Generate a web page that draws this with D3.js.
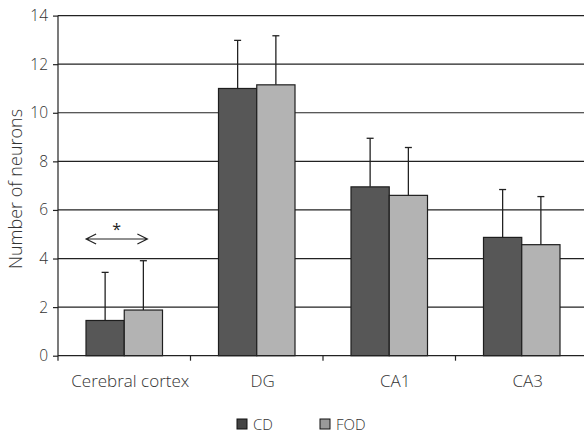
<!DOCTYPE html>
<html><head><meta charset="utf-8">
<script src="https://cdn.jsdelivr.net/npm/d3@7"></script>
<style>body{margin:0;background:#fff;} svg{display:block;font-family:"Open Sans",sans-serif;} svg text{font-family:"Open Sans",sans-serif;}</style>
</head><body>
<svg id="c" width="584" height="434"></svg>
<script>
const categories = ["Cerebral cortex", "DG", "CA1", "CA3"];
const seriesNames = ["CD", "FOD"];
const cdValues = [1.45, 11.0, 6.95, 4.87];
const cdErrors = [1.98, 1.98, 2.0, 1.97];
const fodValues = [1.88, 11.15, 6.6, 4.57];
const fodErrors = [2.03, 2.02, 1.97, 1.98];
const yTicks = [0, 2, 4, 6, 8, 10, 12, 14];
const colors = {CD: "#575757", FOD: "#b3b3b3"};
const legendColors = {CD: "#444444", FOD: "#999999"};

const svg = d3.select("#c");
const x0 = d3.scaleBand().domain(categories).range([58, 588]).paddingInner(0).paddingOuter(0);
const x1 = d3.scaleBand().domain(seriesNames).range([28, x0.bandwidth() - 28]);
const y = d3.scaleLinear().domain([0, 14]).range([355.7, 15.6]);

// gridlines
svg.append("g").selectAll("line").data(yTicks.filter(d => d > 0)).join("line")
  .attr("x1", 58).attr("x2", 588).attr("y1", d => y(d)).attr("y2", d => y(d))
  .attr("stroke", "#222").attr("stroke-width", 1.2);

const data = categories.map((c, i) => ({c, vals: [
  {s: "CD", v: cdValues[i], e: cdErrors[i]},
  {s: "FOD", v: fodValues[i], e: fodErrors[i]}]}));

const g = svg.append("g").selectAll("g").data(data).join("g")
  .attr("transform", d => `translate(${x0(d.c)},0)`);
g.selectAll("line.err").data(d => d.vals).join("line").attr("class","err")
  .attr("x1", d => x1(d.s) + x1.bandwidth()/2).attr("x2", d => x1(d.s) + x1.bandwidth()/2)
  .attr("y1", d => y(d.v)).attr("y2", d => y(d.v + d.e))
  .attr("stroke", "#222").attr("stroke-width", 1.3);
g.selectAll("line.cap").data(d => d.vals).join("line").attr("class","cap")
  .attr("x1", d => x1(d.s) + x1.bandwidth()/2 - 3.5).attr("x2", d => x1(d.s) + x1.bandwidth()/2 + 3.5)
  .attr("y1", d => y(d.v + d.e)).attr("y2", d => y(d.v + d.e))
  .attr("stroke", "#222").attr("stroke-width", 1.3);
g.selectAll("rect").data(d => d.vals).join("rect")
  .attr("x", d => x1(d.s)).attr("width", x1.bandwidth())
  .attr("y", d => y(d.v)).attr("height", d => y(0) - y(d.v))
  .attr("fill", d => colors[d.s]).attr("stroke", "#1e1e1e").attr("stroke-width", 1.2);

// y axis
const ya = svg.append("g").attr("transform", "translate(58,0)")
  .call(d3.axisLeft(y).tickValues(yTicks).tickSize(5).tickPadding(5));
ya.attr("font-family", "Open Sans");
ya.select(".domain").attr("d", `M0,${y(14)}V${y(0)+5}`).attr("stroke", "#222").attr("stroke-width", 1.2);
ya.selectAll(".tick line").attr("stroke", "#222").attr("stroke-width", 1.2);
ya.selectAll("text").attr("font-size", 15.5).attr("fill", "#333").attr("font-weight", 300);

// x axis
const xa = svg.append("g").attr("transform", `translate(0,${y(0)})`)
  .call(d3.axisBottom(x0).tickSize(0).tickPadding(19));
xa.attr("font-family", "Open Sans");
xa.select(".domain").attr("d", "M58,0H588").attr("stroke", "#222").attr("stroke-width", 1.2);
xa.selectAll("text").attr("font-size", 17).attr("fill", "#333").attr("font-weight", 300).attr("dx", 6);
svg.append("g").selectAll("line").data(categories.slice(1)).join("line")
  .attr("x1", d => x0(d)).attr("x2", d => x0(d)).attr("y1", y(0)).attr("y2", y(0) + 5)
  .attr("stroke", "#222").attr("stroke-width", 1.2);

// y label
svg.append("text").attr("transform", `translate(22,189) rotate(-90)`)
  .attr("text-anchor", "middle").attr("font-size", 18).attr("fill", "#333").attr("font-weight", 300)
  .text("Number of neurons");

// significance annotation
const ax1 = x0(categories[0]) + x1("CD") + x1.bandwidth()/2 - 19;
const ax2 = x0(categories[0]) + x1("FOD") + x1.bandwidth()/2 + 4;
const ay = 239;
svg.append("path").attr("d", `M${ax1},${ay}H${ax2}M${ax1+10},${ay-5}L${ax1},${ay}L${ax1+10},${ay+5}M${ax2-10},${ay-5}L${ax2},${ay}L${ax2-10},${ay+5}`)
  .attr("fill", "none").attr("stroke", "#222").attr("stroke-width", 1.2);
svg.append("text").attr("x", (ax1+ax2)/2).attr("y", 235).attr("text-anchor","middle")
  .attr("font-size", 16).attr("fill", "#222").text("*");

// legend
const leg = svg.append("g").selectAll("g").data(seriesNames).join("g")
  .attr("transform", (d, i) => `translate(${237 + i*83},419)`);
leg.append("rect").attr("width", 10).attr("height", 10).attr("fill", d => legendColors[d])
  .attr("stroke", "#111").attr("stroke-width", 1);
leg.append("text").attr("x", 16).attr("y", 10.5).attr("font-size", 15).attr("fill", "#333").attr("font-weight", 300).text(d => d);
</script>
</body></html>
